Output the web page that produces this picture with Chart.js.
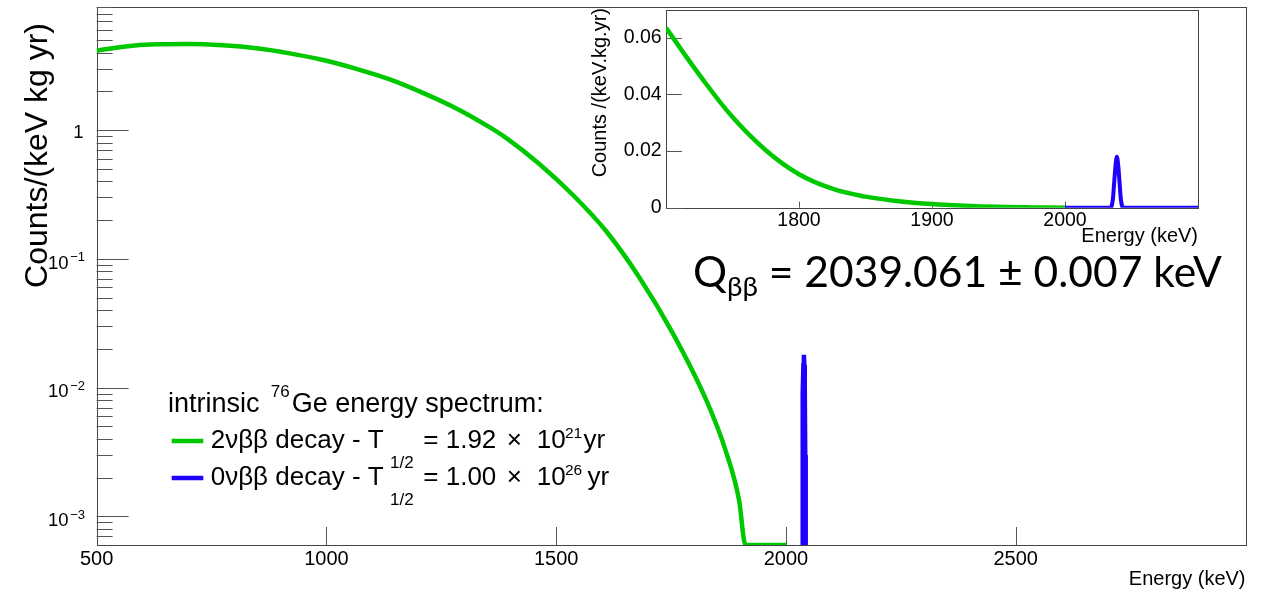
<!DOCTYPE html>
<html><head><meta charset="utf-8">
<script src="https://cdn.jsdelivr.net/npm/chart.js@4.4.1/dist/chart.umd.min.js"></script>
<style>
html,body{margin:0;padding:0;background:#fff;}
#wrap{position:relative;width:1261px;height:590px;overflow:hidden;}
#main{position:absolute;left:0;top:0;}
#inset{position:absolute;left:580px;top:-30px;}
</style></head><body>
<div id="wrap"><canvas id="main" width="1261" height="590"></canvas><canvas id="inset" width="680" height="280"></canvas></div>
<script>
const FONT = '"Liberation Sans", Arial, sans-serif';
const GREEN = '#00c800';
const BLUE = '#1e00ff';

// 2vbb spectrum, main (log) panel: energy (keV) / counts per keV kg yr
const greenE = [500, 558, 630, 703, 775, 848, 920, 993, 1065, 1138, 1210, 1283, 1355, 1391, 1464, 1536, 1609, 1681, 1753, 1826, 1869, 1898, 1912, 2000];
const greenV = [4.14, 4.45, 4.64, 4.67, 4.56, 4.32, 3.95, 3.505, 2.995, 2.48, 1.95, 1.475, 1.055, 0.870, 0.544, 0.315, 0.164, 0.0718, 0.0268, 0.0081, 0.00323, 0.00134, 0.0006, 0.0006];

// 0vbb peak (shared by both panels)
const blueE = [2000, 2034, 2035, 2036, 2037, 2038, 2039, 2040, 2041, 2042, 2043, 2044, 2100];
const blueV = [0, 0, 0.0005, 0.003, 0.009, 0.015, 0.018, 0.015, 0.009, 0.003, 0.0005, 0, 0];

// 2vbb spectrum, inset (linear) panel
const insetE = [1700, 1725, 1750, 1775, 1800, 1825, 1850, 1875, 1900, 1925, 1950, 1975, 2000];
const insetV = [0.0635, 0.0470, 0.0320, 0.0203, 0.0118, 0.0067, 0.0039, 0.0023, 0.0013, 0.0007, 0.0003, 0.0001, 0];

// ticks
const xTicks = [500, 1000, 1500, 2000, 2500];
const xTickLabels = ['500', '1000', '1500', '2000', '2500'];
const yTickVals = [1e-3, 1e-2, 1e-1, 1];
const yTickBase = ['10', '10', '10', '1'];
const yTickExp = ['\u22123', '\u22122', '\u22121', ''];
const insetXTicks = [1800, 1900, 2000];
const insetXLabels = ['1800', '1900', '2000'];
const insetYTicks = [0, 0.02, 0.04, 0.06];
const insetYLabels = ['0', '0.02', '0.04', '0.06'];

function line(ctx, x1, y1, x2, y2) { ctx.beginPath(); ctx.moveTo(x1, y1); ctx.lineTo(x2, y2); ctx.stroke(); }
const crisp = v => Math.round(v) + 0.5;

const mainFrame = {
  id: 'mainFrame',
  beforeDatasetsDraw(chart) {
    const { ctx, chartArea: a, scales: { x, y } } = chart;
    ctx.save();
    ctx.strokeStyle = '#444'; ctx.lineWidth = 1;
    ctx.strokeRect(crisp(a.left), crisp(a.top), Math.round(a.right) - Math.round(a.left), Math.round(a.bottom) - Math.round(a.top));
    ctx.strokeStyle = '#555';
    xTicks.forEach(v => {
      if (v === x.min) return;
      const px = crisp(x.getPixelForValue(v));
      line(ctx, px, a.bottom, px, a.bottom - 18);
    });
    const lo = Math.floor(Math.log10(y.min)), hi = Math.ceil(Math.log10(y.max));
    for (let e = lo; e <= hi; e++) {
      for (let m = 1; m <= 9; m++) {
        const v = m * Math.pow(10, e);
        if (v < y.min * 1.0001 || v > y.max * 1.0001) continue;
        const py = crisp(y.getPixelForValue(v));
        line(ctx, a.left, py, a.left + (m === 1 ? 32 : 16), py);
      }
    }
    ctx.restore();
  },
  afterDraw(chart) {
    const { ctx, chartArea: a, scales: { y } } = chart;
    ctx.save();
    ctx.fillStyle = '#000';
    // y title
    ctx.save();
    ctx.translate(38, 23);
    ctx.rotate(-Math.PI / 2);
    ctx.font = '32px ' + FONT;
    ctx.textAlign = 'right'; ctx.textBaseline = 'middle';
    ctx.fillText('Counts/(keV kg yr)', 0, 0);
    ctx.restore();
    // y tick labels
    yTickVals.forEach((v, i) => {
      const py = y.getPixelForValue(v);
      ctx.textAlign = 'right'; ctx.textBaseline = 'alphabetic';
      if (yTickExp[i]) {
        ctx.font = '13px ' + FONT;
        ctx.fillText(yTickExp[i], 85, py + 2.3);
        ctx.font = '18.5px ' + FONT;
        ctx.fillText(yTickBase[i], 68.5, py + 9.6);
      } else {
        ctx.font = '18.5px ' + FONT;
        ctx.fillText(yTickBase[i], 83.5, py + 7.5);
      }
    });
    // x title
    ctx.font = '20px ' + FONT;
    ctx.textAlign = 'right'; ctx.textBaseline = 'alphabetic';
    ctx.fillText('Energy (keV)', a.right, 585);
    // legend
    ctx.textAlign = 'left';
    const head = '27px ' + FONT, big = '26px ' + FONT, small = '17px ' + FONT, sup = '15.5px ' + FONT;
    const put = (t, x, yb, f) => { ctx.font = f; ctx.fillText(t, x, yb); };
    put('intrinsic', 168, 412, head);
    put('76', 270.7, 397, small);
    put('Ge energy spectrum:', 291.7, 412, head);
    const rows = [
      { c: GREEN, ly: 441, yb: 448, head: '2\u03bd\u03b2\u03b2 decay - T', val: '= 1.92', exp: '21', yr: 583.5 },
      { c: BLUE, ly: 478, yb: 485, head: '0\u03bd\u03b2\u03b2 decay - T', val: '= 1.00', exp: '26', yr: 587.5 }
    ];
    rows.forEach(r => {
      ctx.strokeStyle = r.c; ctx.lineWidth = 4.5;
      line(ctx, 171.7, r.ly, 203.3, r.ly);
      put(r.head, 210.7, r.yb, big);
      put('1/2', 390, r.yb + 19.5, small);
      put(r.val, 423.3, r.yb, big);
      put('\u00d7', 506.7, r.yb, big);
      put('10', 536.7, r.yb, big);
      put(r.exp, 565, r.yb - 10, sup);
      put('yr', r.yr, r.yb, big);
    });
    // Q value text (fit to width)
    const QF = 'Lato, "Open Sans", sans-serif';
    const parts = ['Q', '\u03b2\u03b2', ' = 2039.061 \u00b1 0.007 keV'];
    ctx.font = '100px ' + QF; const w0 = ctx.measureText(parts[0]).width;
    const w2 = ctx.measureText(parts[2]).width;
    ctx.font = '65px ' + QF; const w1 = ctx.measureText(parts[1]).width;
    const S = 100 * 529 / (w0 + w1 + w2);
    let qx = 693;
    ctx.font = S + 'px ' + QF; ctx.fillText(parts[0], qx, 287); qx += ctx.measureText(parts[0]).width;
    ctx.font = (S * 0.65) + 'px ' + QF; ctx.fillText(parts[1], qx, 296); qx += ctx.measureText(parts[1]).width;
    ctx.font = S + 'px ' + QF; ctx.fillText(parts[2], qx, 287);
    ctx.restore();
  }
};

new Chart(document.getElementById('main'), {
  type: 'scatter',
  data: {
    datasets: [
      { label: '2vbb', data: greenE.map((e, i) => ({ x: e, y: greenV[i] })), showLine: true, borderColor: GREEN, borderWidth: 4.5, pointRadius: 0, cubicInterpolationMode: 'monotone' },
      { label: '0vbb', data: blueE.map((e, i) => ({ x: e, y: blueV[i] > 0 ? blueV[i] : null })), showLine: true, borderColor: BLUE, borderWidth: 4.5, pointRadius: 0, spanGaps: false }
    ]
  },
  options: {
    responsive: false, animation: false, events: [], devicePixelRatio: 1,
    layout: { padding: { left: 0, right: 15.5, top: 7.3, bottom: 0 } },
    plugins: { legend: { display: false }, tooltip: { enabled: false } },
    scales: {
      x: {
        type: 'linear', min: 500, max: 3000,
        afterBuildTicks: s => { s.ticks = xTicks.map(v => ({ value: v })); },
        afterFit: s => { s.height = 45; },
        grid: { display: false, drawTicks: false }, border: { display: false },
        ticks: { font: { family: FONT, size: 20 }, color: '#000', padding: 2, maxRotation: 0, autoSkip: false, callback: (v, i) => xTickLabels[i] }
      },
      y: {
        type: 'logarithmic', min: 6e-4, max: 9,
        afterFit: s => { s.width = 96.6; },
        grid: { display: false, drawTicks: false }, border: { display: false },
        ticks: { display: false }
      }
    }
  },
  plugins: [mainFrame]
});

const insetFrame = {
  id: 'insetFrame',
  beforeDatasetsDraw(chart) {
    const { ctx, chartArea: a, scales: { x, y } } = chart;
    ctx.save();
    ctx.strokeStyle = '#444'; ctx.lineWidth = 1;
    ctx.strokeRect(crisp(a.left), crisp(a.top), Math.round(a.right) - Math.round(a.left), Math.round(a.bottom) - Math.round(a.top));
    ctx.strokeStyle = '#555';
    insetXTicks.forEach(v => { const px = crisp(x.getPixelForValue(v)); line(ctx, px, a.bottom, px, a.bottom - 6); });
    insetYTicks.forEach(v => { const py = crisp(y.getPixelForValue(v)); line(ctx, a.left, py, a.left + 16, py); });
    ctx.restore();
  },
  afterDraw(chart) {
    const { ctx, chartArea: a } = chart;
    ctx.save();
    ctx.fillStyle = '#000';
    ctx.font = '20px ' + FONT;
    ctx.textAlign = 'right'; ctx.textBaseline = 'alphabetic';
    ctx.fillText('Energy (keV)', a.right, a.bottom + 34);
    ctx.save();
    ctx.translate(20, a.top - 1.5);
    ctx.rotate(-Math.PI / 2);
    ctx.textAlign = 'right'; ctx.textBaseline = 'middle';
    ctx.fillText('Counts /(keV.kg.yr)', 0, 0);
    ctx.restore();
    ctx.restore();
  }
};

new Chart(document.getElementById('inset'), {
  type: 'scatter',
  data: {
    datasets: [
      { data: insetE.map((e, i) => ({ x: e, y: insetV[i] })), showLine: true, borderColor: GREEN, borderWidth: 4.5, pointRadius: 0, tension: 0.4 },
      { data: blueE.map((e, i) => ({ x: e, y: blueV[i] })), showLine: true, borderColor: BLUE, borderWidth: 4, pointRadius: 0, cubicInterpolationMode: 'monotone' }
    ]
  },
  options: {
    responsive: false, animation: false, events: [], devicePixelRatio: 1,
    layout: { padding: { left: 0, right: 62, top: 39.5, bottom: 0 } },
    plugins: { legend: { display: false }, tooltip: { enabled: false } },
    scales: {
      x: {
        type: 'linear', min: 1700, max: 2100,
        afterBuildTicks: s => { s.ticks = insetXTicks.map(v => ({ value: v })); },
        afterFit: s => { s.height = 42.3; },
        grid: { display: false, drawTicks: false }, border: { display: false },
        ticks: { font: { family: FONT, size: 19.5 }, color: '#000', padding: 1, maxRotation: 0, autoSkip: false, callback: (v, i) => insetXLabels[i] }
      },
      y: {
        type: 'linear', min: 0, max: 0.07,
        afterBuildTicks: s => { s.ticks = insetYTicks.map(v => ({ value: v })); },
        afterFit: s => { s.width = 86; },
        grid: { display: false, drawTicks: false }, border: { display: false },
        ticks: { font: { family: FONT, size: 19.5 }, color: '#000', padding: 4.3, callback: (v, i) => insetYLabels[i] }
      }
    }
  },
  plugins: [insetFrame]
});
</script>
</body></html>
